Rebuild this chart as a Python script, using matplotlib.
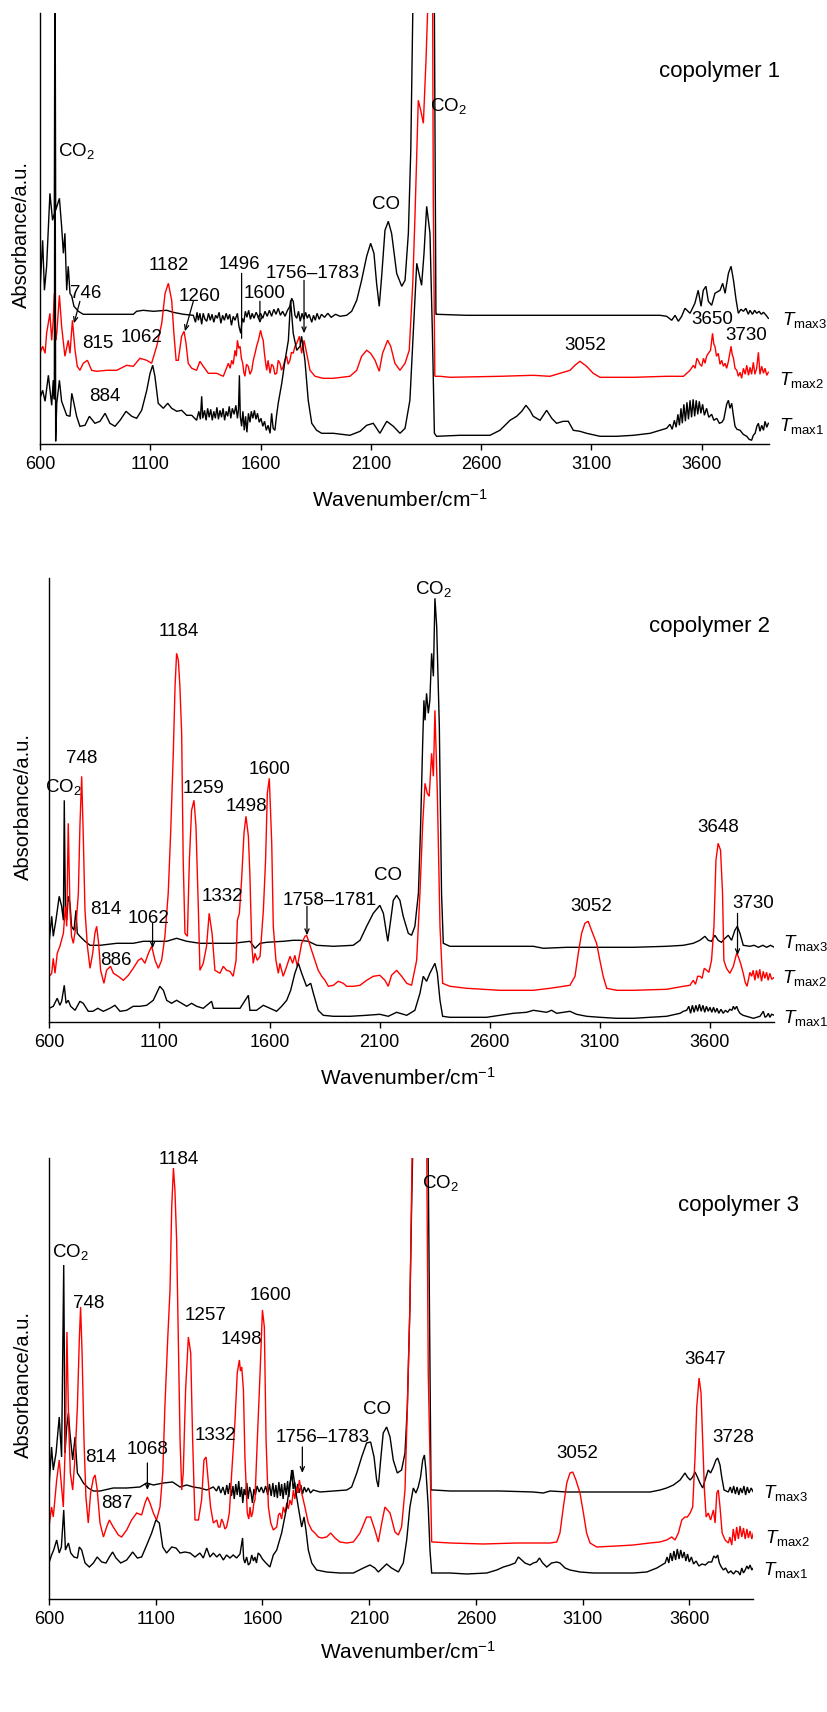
import numpy as np
import matplotlib
matplotlib.use("Agg")
import matplotlib.pyplot as plt

plt.rcParams['font.family'] = ['Liberation Sans', 'DejaVu Sans']
plt.rcParams['mathtext.fontset'] = 'custom'
plt.rcParams['mathtext.rm'] = 'Liberation Sans'
plt.rcParams['mathtext.it'] = 'Liberation Sans:italic'
plt.rcParams['mathtext.bf'] = 'Liberation Sans:bold'

# ---------------- data: (wavenumber cm-1, absorbance a.u.) ----------------
# copolymer 1
C1_TMAX1 = [(600,46),(612,54),(623,43),(638,69),(653,39),(660,64),(665,45),(668,440),(671,3),
    (676,41),(688,64),(698,43),(721,29),(736,28),(744,51),(751,44),(766,28),(781,18),(804,19),
    (824,28),(849,21),(872,23),(895,31),(917,21),(940,18),(963,24),(990,33),(1016,28),(1038,26),
    (1061,34),(1084,54),(1099,71),(1111,79),(1121,68),(1136,41),(1159,36),(1179,41),(1197,36),
    (1220,33),(1242,34),(1265,29),(1288,29),
    (1310,24),(1320,33),(1327,25),(1333,48),(1338,26),(1346,34),(1353,24),(1360,36),(1367,27),
    (1374,35),(1381,24),(1388,33),(1395,26),(1402,37),(1409,25),(1416,34),(1423,27),(1430,36),
    (1437,24),(1444,33),(1451,28),(1458,38),(1465,26),(1472,36),(1480,30),(1488,39),(1495,26),
    (1500,35),(1504,69),(1508,28),(1514,18),(1520,33),(1526,14),(1532,28),(1538,12),(1545,31),
    (1552,22),(1558,33),(1565,26),(1572,34),(1579,25),(1586,31),(1594,22),(1602,26),(1610,18),
    (1618,23),(1626,14),(1634,19),(1643,11),(1650,31),(1657,16),(1665,14),(1672,28),(1680,41),
    (1696,61),(1711,84),
    (1726,104),(1736,144),(1748,111),(1764,94),(1779,98),(1786,108),(1801,84),(1816,44),(1832,21),
    (1854,14),(1877,11),(1930,11),(2005,9),(2051,13),(2081,19),(2111,21),(2141,11),(2172,23),
    (2202,18),(2232,11),(2255,16),(2277,44),(2292,111),(2308,181),(2320,169),(2330,159),(2341,191),
    (2353,238),(2368,211),(2379,111),(2388,11),(2398,8),(2504,9),(2640,9),(2685,14),(2731,24),
    (2761,28),(2784,33),(2803,39),(2821,34),(2836,28),(2867,24),(2897,34),(2920,26),(2942,21),
    (2972,23),(2995,23),(3018,14),(3048,13),(3078,11),(3139,8),(3214,8),(3290,9),(3366,11),
    (3411,14),(3441,16),(3456,20),(3466,15),(3476,24),(3484,17),(3492,30),(3499,19),(3506,36),
    (3512,21),(3519,40),(3526,23),(3533,42),(3540,25),(3547,44),(3554,27),(3561,45),(3568,28),
    (3575,44),(3582,30),(3589,43),(3596,31),(3604,40),(3612,29),(3622,36),(3632,27),(3645,30),
    (3655,24),(3668,26),(3680,21),(3691,22),(3700,25),(3706,32),(3713,40),(3721,44),(3728,36),
    (3736,41),(3744,28),(3751,18),(3760,15),(3774,14),(3788,10),(3804,8),(3815,5),(3826,4),
    (3834,9),(3842,11),(3850,18),(3857,21),(3864,13),(3872,19),(3880,14),(3887,23),(3895,17),(3902,21)]

C1_TMAX2 = [(600,91),(612,98),(623,91),(630,111),(645,131),(653,104),(660,124),(665,151),(671,104),
    (676,111),(688,149),(698,118),(713,88),(728,104),(736,91),(747,124),(759,94),(769,78),(781,74),
    (796,81),(815,84),(834,74),(857,73),(902,74),(948,74),(993,79),(1023,78),(1053,86),(1084,84),
    (1106,81),(1129,98),(1152,121),(1167,151),(1182,161),(1197,144),(1207,111),(1217,84),(1227,84),
    (1242,108),(1253,113),(1262,101),(1272,81),(1288,76),(1310,74),(1325,83),(1340,78),(1363,71),
    (1401,71),(1431,68),(1454,81),(1462,76),(1469,84),(1476,80),(1484,94),(1490,88),(1495,104),
    (1501,96),(1507,98),(1513,86),(1519,81),(1524,72),(1529,68),(1536,80),(1544,78),(1552,70),
    (1560,74),(1567,84),(1575,91),(1582,98),(1590,104),(1600,114),(1606,108),(1612,104),(1617,92),
    (1623,81),(1628,74),(1634,84),(1643,71),(1650,80),(1658,78),(1665,70),(1673,71),(1680,84),
    (1688,81),(1695,74),(1703,78),(1710,84),(1718,88),(1725,80),(1733,84),(1740,92),(1748,91),
    (1756,98),(1764,101),(1776,108),(1786,91),
    (1797,104),(1809,91),(1824,74),(1847,68),(1884,66),(1930,66),(2005,68),(2036,74),(2058,88),
    (2081,94),(2099,91),(2119,84),(2138,73),(2153,91),(2176,104),(2190,98),(2209,81),(2232,74),
    (2255,81),(2274,94),(2290,161),(2300,228),(2315,344),(2326,334),(2338,321),(2350,384),
    (2357,431),(2364,520),(2379,520),(2383,244),(2390,68),(2414,68),(2459,67),(2685,68),(2836,69),
    (2912,68),(2972,72),(3003,74),(3025,79),(3048,83),(3078,78),(3108,71),(3139,67),(3290,67),
    (3441,68),(3517,68),(3532,71),(3547,74),(3562,79),(3570,76),(3578,86),(3584,84),(3592,80),
    (3600,78),(3608,86),(3615,81),(3622,88),(3630,91),(3640,94),(3649,111),(3655,100),(3660,98),
    (3667,88),(3675,91),(3683,80),(3691,84),(3698,78),(3706,81),(3713,76),(3721,83),(3733,98),
    (3738,90),(3744,86),(3751,76),
    (3759,74),(3766,68),(3774,72),(3781,66),(3789,76),(3797,70),(3804,79),(3812,69),(3819,77),
    (3826,70),(3834,82),(3841,70),(3849,76),(3857,92),(3864,70),(3872,78),(3880,71),(3887,76),
    (3895,69),(3902,72)]

C1_TMAX3 = [(600,154),(612,204),(620,154),(630,178),(645,251),(657,224),(665,231),(668,520),(671,234),
    (688,246),(698,218),(706,191),(713,211),(721,154),(728,178),(736,151),(744,148),(754,138),
    (774,133),(796,130),(872,130),(948,130),(1023,130),(1038,133),(1068,134),(1114,133),(1174,134),
    (1204,132),(1250,130),
    (1295,129),(1305,122),(1312,132),(1318,124),(1325,131),(1333,120),(1340,131),(1348,125),
    (1356,123),(1364,131),(1372,124),(1380,130),(1388,122),(1396,129),(1404,126),(1412,132),
    (1420,121),(1428,129),(1436,124),(1444,131),(1452,125),(1460,130),(1468,119),(1476,128),
    (1484,124),(1495,131),(1502,118),(1510,111),(1517,126),(1524,122),(1531,133),(1538,127),
    (1546,134),(1554,125),(1562,131),(1570,126),(1580,132),(1590,127),(1600,131),(1610,126),
    (1620,133),(1630,128),(1640,134),(1650,128),(1660,135),(1670,130),(1680,136),(1690,129),
    (1700,133),(1711,128),(1722,134),(1733,138),(1741,146),(1748,143),(1756,129),(1764,126),
    (1772,133),(1780,123),(1788,131),(1796,125),(1804,132),(1812,126),(1820,130),(1832,122),
    (1840,129),(1848,124),(1856,131),(1866,125),(1876,130),(1890,127),(1905,131),(1920,127),
    (1940,130),(1960,128),(1990,129),
    (2013,133),(2036,144),(2058,164),(2081,188),(2099,201),(2114,191),(2126,161),(2138,138),
    (2149,168),(2164,214),(2179,223),(2194,211),(2217,171),(2240,158),(2255,164),(2270,211),
    (2281,294),(2290,431),(2300,520),(2386,520),(2395,130),(2398,130),(2534,129),(2836,129),
    (3139,129),(3290,129),(3411,129),(3441,128),(3464,124),(3479,129),(3494,123),(3509,128),
    (3524,136),(3547,131),(3569,141),(3584,154),(3597,138),(3607,154),(3619,158),(3630,143),
    (3645,139),(3660,151),(3683,154),(3695,161),(3706,151),(3721,171),(3733,178),(3744,164),
    (3756,144),(3766,131),(3778,135),(3789,133),(3800,136),(3811,130),(3819,134),(3830,130),
    (3840,134),(3849,131),(3860,133),(3870,130),(3880,132),(3892,129),(3902,126)]

# copolymer 2
C2_TMAX1 = [(600,14),(618,16),(636,24),(648,17),(656,21),(668,37),(676,19),(686,22),(697,16),(717,12),
    (739,21),(754,19),(777,11),(798,11),(820,14),(845,11),(875,14),(898,17),(921,11),(951,12),
    (981,16),(1012,16),(1042,17),(1072,22),(1102,36),(1118,32),(1133,22),(1155,19),(1178,22),
    (1201,19),(1224,16),(1246,19),(1269,16),(1299,14),(1337,21),(1345,14),(1375,14),(1420,14),
    (1466,14),(1504,27),(1511,12),(1541,12),(1572,17),(1602,14),(1632,11),(1655,16),(1678,22),
    (1696,32),(1715,49),(1731,59),(1746,49),(1768,36),(1787,39),(1799,29),(1821,12),(1844,7),
    (1890,6),(1965,6),(2041,7),(2101,8),(2139,6),(2177,10),(2223,7),(2260,12),(2283,29),(2298,46),
    (2313,41),(2328,49),(2344,56),(2351,59),(2362,49),(2374,22),(2386,6),(2419,5),(2585,5),
    (2646,7),(2707,9),(2767,10),(2798,12),(2828,11),(2858,10),(2881,12),(2904,9),(2934,10),
    (2964,11),(2994,8),(3040,6),(3100,5),(3176,4),(3252,4),(3328,5),(3403,6),(3464,9),(3479,11),
    (3494,12),(3504,16),(3512,9),(3520,17),(3528,10),(3536,17),(3544,11),(3552,18),(3560,11),
    (3568,17),(3576,10),(3584,16),(3592,11),(3600,15),(3608,10),(3616,15),(3624,10),(3632,14),
    (3640,9),(3650,13),(3660,9),(3670,12),(3680,10),(3690,13),(3700,12),(3706,16),(3713,13),
    (3721,16),(3728,12),(3736,9),(3750,7),
    (3766,6),(3797,4),(3827,6),(3842,11),(3850,5),(3857,6),(3865,9),(3872,5),(3880,8),(3892,7)]

C2_TMAX2 = [(600,46),(611,49),(618,64),(626,49),(636,69),(648,76),(664,89),(673,116),(679,96),
    (686,199),(694,112),(701,86),(709,79),(721,96),(732,129),(739,196),(747,246),(754,189),
    (762,112),(773,76),(785,54),(797,69),(807,89),(815,96),(824,79),(833,52),(848,39),(860,52),
    (878,56),(891,49),(913,46),(936,42),(959,47),(981,54),(1004,62),(1019,64),(1034,59),(1050,69),
    (1065,76),(1080,62),(1095,54),(1110,62),(1125,86),(1140,129),(1151,189),(1163,269),(1171,336),
    (1178,369),(1186,362),(1193,336),(1201,289),(1208,162),(1216,89),(1227,86),(1236,162),
    (1246,212),(1257,222),(1266,196),(1277,112),(1284,52),(1299,59),(1314,76),(1326,109),
    (1339,89),(1352,52),(1375,49),(1390,56),(1405,52),(1420,51),(1435,46),(1448,62),(1454,102),
    (1463,109),(1473,142),(1484,189),(1493,206),(1504,186),(1511,146),(1519,79),(1526,59),
    (1534,69),(1544,62),(1557,66),(1572,112),(1582,162),(1590,229),(1599,244),(1610,179),
    (1617,96),(1629,62),(1640,49),(1647,59),(1662,46),(1678,56),(1693,66),(1705,59),(1715,67),
    (1726,56),(1735,66),(1746,79),(1761,86),(1768,87),(1781,79),(1791,72),(1806,62),(1821,52),
    (1837,46),(1852,42),(1867,36),(1890,37),(1912,41),(1935,39),(1950,36),(1980,36),(2011,37),
    (2041,42),(2071,46),(2101,47),(2124,42),(2139,36),(2154,47),(2177,52),(2200,46),(2223,39),
    (2245,37),(2268,62),(2283,129),(2295,196),(2306,239),(2316,229),(2325,226),(2336,269),
    (2344,246),(2351,312),(2362,229),(2374,96),(2386,39),(2419,36),(2495,34),(2646,32),(2798,32),
    (2873,34),(2934,36),(2964,37),(2987,46),(3002,69),(3017,89),(3032,99),(3047,101),(3062,92),
    (3085,79),(3100,62),(3115,46),(3131,34),(3176,32),(3252,32),(3403,33),(3479,36),(3509,37),
    (3524,42),(3534,38),(3544,46),(3554,46),(3564,44),(3574,54),(3585,52),(3595,50),(3607,62),
    (3618,96),(3627,162),(3637,179),(3648,172),(3657,129),
    (3663,62),(3675,54),(3690,49),(3706,56),(3721,69),(3728,66),(3739,59),(3751,49),(3760,40),
    (3768,36),(3774,42),(3781,50),(3789,46),(3796,52),(3804,42),(3811,52),(3819,44),(3826,53),
    (3834,41),(3842,51),(3849,44),(3857,50),(3864,42),(3872,49),(3880,43),(3892,45)]

C2_TMAX3 = [(600,82),(611,106),(618,86),(630,102),(645,126),(656,116),(664,102),(668,222),(673,116),
    (679,102),(686,126),(694,119),(701,96),(712,92),(721,112),(727,89),(739,86),(762,81),(785,77),
    (830,77),(906,79),(981,79),(1027,81),(1072,81),(1133,81),(1178,84),(1224,81),(1284,79),
    (1360,79),(1435,79),(1511,81),(1534,74),(1557,79),(1587,80),(1662,81),(1708,82),(1738,82),
    (1776,81),(1814,77),(1890,76),(1980,77),(2011,82),(2041,96),(2071,109),(2101,117),(2117,109),
    (2129,92),(2137,81),(2150,102),(2162,122),(2177,127),(2192,122),(2207,106),(2230,89),(2245,87),
    (2260,96),(2276,129),(2286,196),(2295,276),(2301,322),(2306,302),(2313,329),(2321,309),
    (2328,322),(2336,369),(2344,346),(2351,424),(2359,396),(2371,296),(2381,129),(2389,79),
    (2419,76),(2495,76),(2798,76),(2843,74),(2949,75),(3252,75),(3403,76),(3479,77),(3524,79),
    (3554,82),(3577,86),(3592,82),(3607,81),(3622,87),(3637,82),(3652,80),(3668,84),(3683,87),
    (3698,82),(3713,92),(3724,96),(3736,89),(3751,77),(3781,76),(3800,77),(3820,75),(3840,77),
    (3857,75),(3875,77),(3892,75)]

# copolymer 3
C3_TMAX1 = [(600,36),(612,44),(622,49),(636,59),(648,46),(658,52),(669,89),(677,49),(691,56),(702,46),
    (717,42),(733,41),(742,52),(753,49),(769,36),(789,32),(808,36),(826,42),(847,37),(867,36),
    (883,42),(898,47),(914,41),(936,36),(964,39),(992,47),(1014,41),(1034,42),(1058,54),(1081,66),
    (1101,79),(1117,76),(1133,52),(1151,46),(1175,52),(1195,51),(1214,46),(1237,47),(1261,46),
    (1284,42),(1307,46),(1323,41),(1339,51),(1354,42),(1370,46),(1386,42),(1400,45),(1417,39),
    (1432,44),(1448,41),(1463,44),(1479,41),(1495,45),(1507,61),(1512,40),(1518,36),(1526,42),
    (1534,34),(1542,36),(1550,44),(1558,38),(1565,42),(1572,36),(1580,46),(1589,44),(1600,40),
    (1612,37),(1635,32),(1651,44),(1667,49),
    (1690,66),(1714,92),(1729,116),(1742,129),(1753,112),(1768,92),(1784,72),(1795,82),(1804,69),
    (1815,49),(1831,36),(1854,29),(1901,27),(1963,26),(2026,26),(2073,31),(2104,34),(2127,31),
    (2143,27),(2182,35),(2205,31),(2237,27),(2260,36),(2276,59),(2291,92),(2307,111),(2319,106),
    (2330,112),(2341,122),(2351,139),(2359,144),(2366,129),(2377,92),(2385,49),(2393,26),
    (2479,26),(2557,25),(2651,26),(2698,29),(2729,32),(2760,34),(2784,36),(2799,42),(2815,39),
    (2830,36),(2854,34),(2869,36),(2885,37),(2898,41),(2913,36),(2932,32),(2955,36),(2979,37),
    (2994,36),(3018,31),(3041,29),(3088,27),(3151,26),(3260,26),(3338,26),(3401,27),(3448,31),
    (3487,36),(3496,42),(3504,36),(3512,46),(3520,38),(3528,48),(3536,39),(3544,50),(3552,40),
    (3560,49),(3568,41),(3576,47),(3584,38),(3592,45),(3600,37),(3610,42),(3620,35),(3632,38),
    (3645,33),(3660,35),(3675,34),(3690,37),(3705,37),(3715,43),(3725,41),(3733,44),(3741,36),
    (3750,32),(3760,29),(3770,31),(3783,26),(3795,28),(3807,25),(3818,28),(3830,27),(3838,24),
    (3846,31),(3854,26),(3862,29),(3870,33),(3877,30),(3885,34),(3893,29),(3900,31)]

C3_TMAX2 = [(600,72),(612,92),(620,82),(636,119),(648,139),(659,112),(667,92),(677,159),(684,267),
    (692,176),(700,126),(711,109),(722,142),(733,192),(742,259),(748,292),(755,246),(764,159),
    (773,102),(784,76),(795,106),(808,121),(816,124),(826,109),(839,76),(855,62),(870,72),(883,79),
    (901,72),(925,64),(940,62),(964,69),(987,79),(1011,86),(1034,84),(1050,96),(1061,102),
    (1073,96),(1089,86),(1104,79),(1120,92),(1133,126),(1143,192),(1156,259),(1167,309),
    (1175,392),(1183,431),(1190,409),(1198,359),(1206,259),(1214,159),(1222,109),(1229,126),
    (1240,209),(1253,262),(1264,246),(1273,159),(1284,79),(1300,79),(1315,99),(1326,139),
    (1336,142),(1347,116),(1357,92),(1370,76),(1386,79),(1394,72),(1401,72),(1409,80),(1417,76),
    (1424,70),(1432,72),(1438,78),(1445,86),
    (1456,126),(1471,176),(1482,226),(1492,239),(1497,228),(1503,232),(1511,209),(1518,142),
    (1529,86),(1536,80),(1542,92),(1548,82),(1554,86),(1560,96),(1565,99),(1576,159),(1589,226),
    (1600,289),(1609,272),(1617,159),(1628,92),(1639,76),(1651,69),(1667,72),(1675,84),(1682,86),
    (1690,80),(1698,92),(1706,86),(1714,96),(1721,90),(1729,99),(1737,94),(1745,109),(1752,100),
    (1760,112),(1766,106),(1773,119),(1784,106),(1799,92),(1815,76),(1831,69),(1846,66),
    (1862,62),(1878,61),
    (1901,62),(1920,66),(1940,61),(1963,57),(1995,56),(2026,57),(2057,66),(2088,82),(2107,82),
    (2127,69),(2143,57),(2159,76),(2174,92),(2198,86),(2221,67),(2237,64),(2252,72),(2268,109),
    (2279,192),(2291,292),(2304,480),(2369,480),(2377,226),(2393,57),(2401,57),(2479,56),
    (2635,55),(2791,56),(2948,56),(2979,57),(2994,66),(3010,92),(3026,116),(3041,126),(3054,127),
    (3069,119),(3088,106),(3104,86),(3119,66),(3135,56),(3166,52),(3260,53),(3338,54),(3416,56),
    (3463,57),(3494,59),(3518,62),(3533,59),(3549,66),(3565,79),(3580,82),(3591,82),(3604,86),
    (3616,92),(3627,142),(3635,192),(3646,221),(3655,206),(3663,159),(3671,109),(3679,82),
    (3689,86),(3700,79),(3713,89),(3721,76),(3729,106),(3736,109),(3744,92),(3754,66),(3768,59),
    (3783,56),(3790,62),(3799,54),(3806,70),(3815,58),(3822,72),(3830,60),(3838,73),(3846,62),
    (3854,71),(3862,60),(3870,70),(3877,61),(3885,68),(3893,60),(3900,66)]

C3_TMAX3 = [(600,112),(612,152),(620,129),(633,146),(648,182),(659,142),(669,334),(675,146),(683,172),
    (691,186),(698,166),(711,139),(722,162),(733,126),(745,122),(761,116),(784,111),(808,108),
    (839,108),(901,111),(964,111),(1026,112),(1058,116),(1089,114),(1136,116),(1179,117),
    (1214,112),(1245,114),(1276,112),(1307,111),(1339,109),
    (1370,112),(1385,108),(1395,113),(1405,106),(1415,112),(1425,104),(1433,114),(1440,105),
    (1447,116),(1455,103),(1462,113),(1468,100),(1475,115),(1482,104),(1489,118),(1495,102),
    (1502,112),(1508,96),(1514,110),(1520,104),(1527,116),(1533,100),(1540,112),(1547,106),
    (1553,96),(1560,110),(1567,104),(1575,113),(1585,107),(1595,112),(1605,106),(1615,113),
    (1625,104),(1633,115),(1641,103),(1649,116),(1656,102),(1663,114),(1670,101),(1677,117),
    (1684,103),(1690,115),(1697,100),(1704,116),(1711,104),(1718,118),(1724,102),(1730,114),
    (1737,129),(1744,110),(1751,117),(1758,104),(1765,115),(1772,106),(1780,114),(1788,105),
    (1796,112),(1805,107),(1815,111),(1825,106),(1838,109),
    (1870,107),(1932,108),(1995,109),(2018,112),(2042,126),(2065,142),(2088,156),(2107,157),
    (2123,142),(2135,119),(2143,112),(2154,139),(2166,166),(2182,172),(2198,162),(2213,139),
    (2232,126),(2252,129),(2268,146),(2279,192),(2291,292),(2299,392),(2307,480),(2375,480),
    (2390,109),(2401,109),(2479,108),(2557,108),(2713,108),(2869,107),(2916,106),(2948,108),
    (3026,107),(3182,107),(3338,107),(3416,107),(3463,109),(3494,111),(3526,114),(3557,119),
    (3580,126),(3591,122),(3604,119),(3616,122),(3627,127),(3638,122),(3650,116),(3663,111),
    (3674,119),(3689,129),(3700,126),(3713,132),(3725,139),(3733,141),(3744,134),(3752,122),
    (3763,109),(3783,107),(3792,112),(3800,106),(3808,113),(3816,105),(3824,112),(3832,104),
    (3840,111),(3848,106),(3856,113),(3864,104),(3872,112),(3880,106),(3890,111),(3900,107)]

SERIES_NAMES = [r'$T_{\mathrm{max3}}$', r'$T_{\mathrm{max2}}$', r'$T_{\mathrm{max1}}$']
XTICKS = [600, 1100, 1600, 2100, 2600, 3100, 3600]

# peak labels: (text, wavenumber, absorbance)
C1_LABELS = [('CO$_2$', 766, 293), ('746', 809, 151), ('815', 864, 101), ('1062', 1061, 107),
             ('884', 895, 48), ('1182', 1182, 179), ('1260', 1325, 148), ('1496', 1504, 180),
             ('1600', 1617, 151), ('1756\u20131783', 1836, 171), ('CO', 2167, 240),
             ('CO$_2$', 2452, 338), ('3052', 3074, 99), ('3650', 3649, 125), ('3730', 3800, 109)]
C2_LABELS = [('CO$_2$', 664, 235), ('748', 747, 264), ('814', 857, 113), ('1062', 1050, 104),
             ('886', 903, 62), ('1184', 1186, 391), ('1259', 1302, 234), ('1332', 1387, 126),
             ('1498', 1496, 216), ('1600', 1599, 253), ('1758\u20131781', 1874, 122),
             ('CO', 2139, 147), ('CO$_2$', 2344, 433), ('3052', 3059, 116), ('3648', 3638, 195),
             ('3730', 3797, 119)]
C3_LABELS = [('CO$_2$', 702, 347), ('748', 784, 296), ('814', 842, 142), ('887', 920, 96),
             ('1068', 1061, 150), ('1184', 1209, 439), ('1257', 1334, 283), ('1332', 1378, 163),
             ('1498', 1503, 260), ('1600', 1640, 303), ('1756\u20131783', 1881, 161),
             ('CO', 2135, 190), ('CO$_2$', 2433, 416), ('3052', 3075, 145), ('3647', 3677, 240),
             ('3728', 3806, 162)]

# arrows: (x0, y0, x1, y1, style)
C1_ARROWS = [(781, 143, 754, 121, '->'), (1295, 143, 1257, 113, '->'), (1514, 171, 1514, 106, '-'),
             (1597, 143, 1597, 121, '->'), (1797, 164, 1797, 111, '->')]
C2_ARROWS = [(1069, 99, 1069, 74, '->'), (1770, 116, 1770, 87, '->'), (3725, 109, 3725, 67, '->')]
C3_ARROWS = [(1061, 136, 1061, 109, '->'), (1787, 152, 1787, 126, '->')]

PANELS = [
    dict(title='copolymer 1', title_pos=(3680, 373), traces=[C1_TMAX3, C1_TMAX2, C1_TMAX1],
         series_pos=[(3962, 124), (3950, 64), (3950, 18)], labels=C1_LABELS, arrows=C1_ARROWS,
         rect_px=(40, 13, 769, 444.3), xlim=(600, 3905), ylab_px=(21, 235), xlab_px=(400, 500)),
    dict(title='copolymer 2', title_pos=(3600, 396), traces=[C2_TMAX3, C2_TMAX2, C2_TMAX1],
         series_pos=[(3932, 79), (3929, 44), (3932, 4)], labels=C2_LABELS, arrows=C2_ARROWS,
         rect_px=(49.3, 578.3, 774.3, 1022.3), xlim=(600, 3892), ylab_px=(23, 807), xlab_px=(408, 1078)),
    dict(title='copolymer 3', title_pos=(3830, 394), traces=[C3_TMAX3, C3_TMAX2, C3_TMAX1],
         series_pos=[(3946, 106), (3957, 61), (3946, 29)], labels=C3_LABELS, arrows=C3_ARROWS,
         rect_px=(49, 1158.3, 753.3, 1599), xlim=(600, 3900), ylab_px=(23, 1385), xlab_px=(408, 1652)),
]
COLORS = ['black', '#ff0000', 'black']

W, H = 828, 1712
fig = plt.figure(figsize=(W / 100, H / 100), dpi=100)

for p in PANELS:
    x0, y0, x1, y1 = p['rect_px']
    ax = fig.add_axes([x0 / W, 1 - y1 / H, (x1 - x0) / W, (y1 - y0) / H])
    for data, col in zip(p['traces'], COLORS):
        a = np.array(data, dtype=float)
        ax.plot(a[:, 0], a[:, 1], color=col, lw=1.0, solid_joinstyle='miter')
    ax.set_xlim(*p['xlim'])
    ax.set_ylim(0, y1 - y0)
    for s in ['top', 'right']:
        ax.spines[s].set_visible(False)
    for s in ['left', 'bottom']:
        ax.spines[s].set_linewidth(1.0)
    ax.set_yticks([])
    ax.set_xticks(XTICKS)
    ax.set_xticklabels([str(t) for t in XTICKS])
    ax.tick_params(axis='x', direction='out', length=4, width=1.0, pad=4.5, labelsize=13)
    for txt, xw, yv in p['labels']:
        ax.text(xw, yv, txt, ha='center', va='center', fontsize=13.5)
    for xa, ya, xb, yb, st in p['arrows']:
        ax.annotate('', xy=(xb, yb), xytext=(xa, ya),
                    arrowprops=dict(arrowstyle=st if st == '-' else '->,head_length=0.35,head_width=0.15',
                                    lw=0.9, color='black', shrinkA=0, shrinkB=0))
    ax.text(p['title_pos'][0], p['title_pos'][1], p['title'], ha='center', va='center', fontsize=16)
    for name, (xs, ys) in zip(SERIES_NAMES, p['series_pos']):
        ax.text(xs, ys, name, ha='left', va='center', fontsize=13.5, clip_on=False)
    fig.text(p['ylab_px'][0] / W, 1 - p['ylab_px'][1] / H, 'Absorbance/a.u.', rotation=90,
             ha='center', va='center', fontsize=14.5)
    fig.text(p['xlab_px'][0] / W, 1 - p['xlab_px'][1] / H, r'Wavenumber/cm$^{-1}$',
             ha='center', va='center', fontsize=15)

fig.savefig('out.png', dpi=100)
